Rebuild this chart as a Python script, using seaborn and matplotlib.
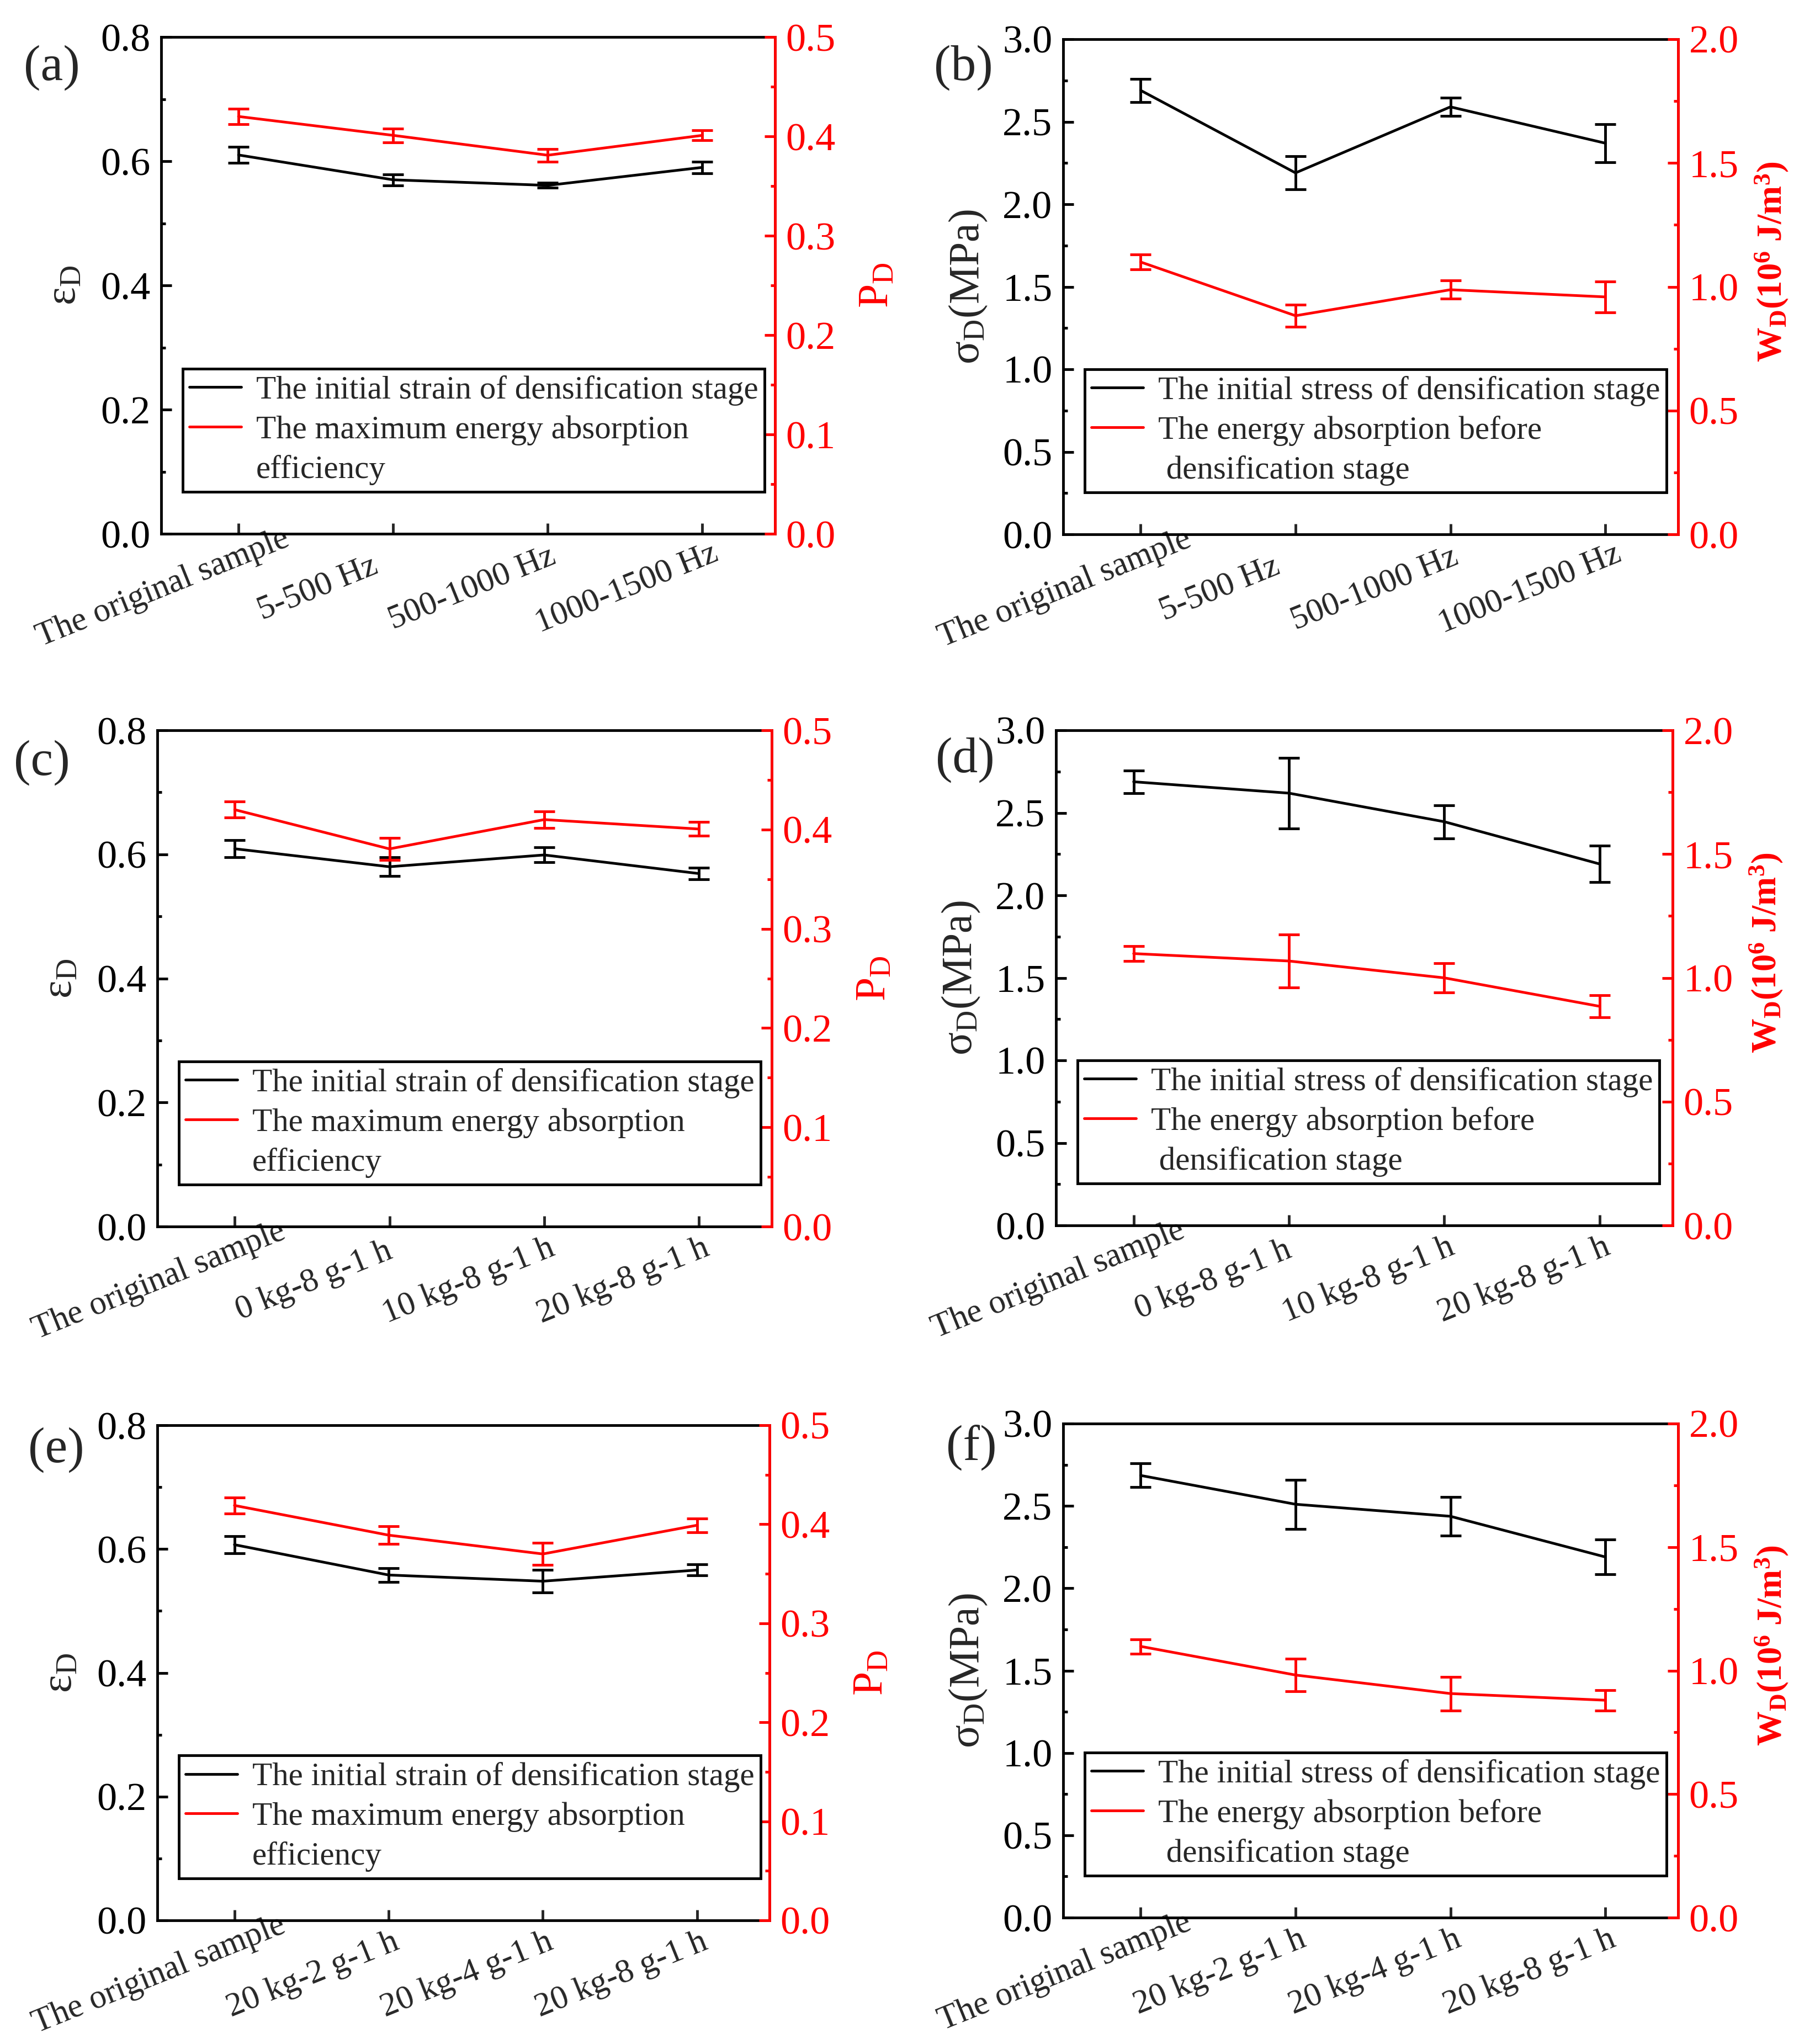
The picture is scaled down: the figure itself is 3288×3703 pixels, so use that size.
import numpy as np
import matplotlib
matplotlib.use('Agg')
import matplotlib.pyplot as plt
from matplotlib.ticker import MultipleLocator, FormatStrFormatter
from matplotlib.transforms import ScaledTranslation
from matplotlib.lines import Line2D
import seaborn as sns

# x categories for each row
cats_freq = ['The original sample', '5-500 Hz', '500-1000 Hz', '1000-1500 Hz']
cats_load = ['The original sample', '0 kg-8 g-1 h', '10 kg-8 g-1 h', '20 kg-8 g-1 h']
cats_accel = ['The original sample', '20 kg-2 g-1 h', '20 kg-4 g-1 h', '20 kg-8 g-1 h']

# (a) strain / efficiency, frequency
eps_a = [0.610, 0.570, 0.561, 0.590]
eps_a_err = [0.013, 0.009, 0.004, 0.0095]
pd_a = [0.420, 0.401, 0.381, 0.401]
pd_a_err = [0.008, 0.007, 0.0065, 0.005]
# (b) stress / energy, frequency
sig_b = [2.69, 2.19, 2.59, 2.37]
sig_b_err = [0.07, 0.10, 0.055, 0.115]
wd_b = [1.10, 0.883, 0.988, 0.959]
wd_b_err = [0.03, 0.044, 0.037, 0.062]
# (c) strain / efficiency, load
eps_c = [0.609, 0.580, 0.599, 0.569]
eps_c_err = [0.014, 0.015, 0.012, 0.009]
pd_c = [0.420, 0.3805, 0.410, 0.4005]
pd_c_err = [0.008, 0.011, 0.0085, 0.007]
# (d) stress / energy, load
sig_d = [2.688, 2.619, 2.446, 2.19]
sig_d_err = [0.069, 0.214, 0.10, 0.11]
wd_d = [1.098, 1.068, 1.00, 0.885]
wd_d_err = [0.03, 0.107, 0.059, 0.044]
# (e) strain / efficiency, acceleration
eps_e = [0.607, 0.558, 0.548, 0.566]
eps_e_err = [0.014, 0.011, 0.018, 0.009]
pd_e = [0.419, 0.389, 0.370, 0.399]
pd_e_err = [0.008, 0.009, 0.011, 0.007]
# (f) stress / energy, acceleration
sig_f = [2.685, 2.51, 2.437, 2.19]
sig_f_err = [0.072, 0.149, 0.118, 0.105]
wd_f = [1.098, 0.982, 0.907, 0.88]
wd_f_err = [0.029, 0.065, 0.068, 0.041]

# legend lines (third line is the wrapped rest of the red entry)
strain_labels = ['The initial strain of densification stage',
                 'The maximum energy absorption', 'efficiency']
stress_labels = ['The initial stress of densification stage',
                 'The energy absorption before', ' densification stage']

sns.set_style('ticks')
plt.rcParams['font.family'] = ['Liberation Serif', 'DejaVu Serif']
plt.rcParams['mathtext.fontset'] = 'custom'
plt.rcParams['mathtext.rm'] = 'Liberation Serif'
plt.rcParams['mathtext.it'] = 'Liberation Serif:italic'
plt.rcParams['mathtext.bf'] = 'Liberation Serif:bold'

RED = '#ff0000'
LW = 3.5
TICK_FS = 52
XT_FS = 44
LAB_FS = 56
LEG_FS = 42.5


def style_axis(ax, side, color):
    ax.tick_params(axis='y', which='both', direction='in', width=LW, colors=color,
                   labelsize=TICK_FS, pad=14,
                   left=(side == 'left'), right=(side == 'right'),
                   labelleft=(side == 'left'), labelright=(side == 'right'))
    ax.tick_params(axis='y', which='major', length=14)
    ax.tick_params(axis='y', which='minor', length=6)


def draw_panel(fig, rect, tag, tag_xy, cats, ly, lerr, ry, rerr, kind):
    ax = fig.add_axes(rect)
    ax2 = ax.twinx()
    x = np.arange(len(cats))

    sns.lineplot(x=x, y=ly, ax=ax, color='black', lw=LW)
    h1 = ax.lines[0]
    ax.errorbar(x, ly, yerr=lerr, fmt='none', ecolor='black', elinewidth=LW,
                capsize=14, capthick=LW)
    sns.lineplot(x=x, y=ry, ax=ax2, color=RED, lw=LW)
    h2 = ax2.lines[0]
    ax2.errorbar(x, ry, yerr=rerr, fmt='none', ecolor=RED, elinewidth=LW,
                 capsize=14, capthick=LW)

    ax.set_xlim(-0.5, 3.47)
    if kind == 'strain':
        ax.set_ylim(0, 0.8)
        ax.yaxis.set_major_locator(MultipleLocator(0.2))
        ax.yaxis.set_minor_locator(MultipleLocator(0.1))
        ax2.set_ylim(0, 0.5)
        ax2.yaxis.set_major_locator(MultipleLocator(0.1))
        ax2.yaxis.set_minor_locator(MultipleLocator(0.05))
        ax.set_ylabel('ε$_{\\mathrm{D}}$', fontsize=LAB_FS)
        ax2.set_ylabel('P$_{\\mathrm{D}}$', fontsize=LAB_FS, color=RED)
        labels = strain_labels
        ax.yaxis.set_label_coords(-0.125, 0.5)
        ax2.yaxis.set_label_coords(1.135, 0.5)
    else:
        ax.set_ylim(0, 3.0)
        ax.yaxis.set_major_locator(MultipleLocator(0.5))
        ax.yaxis.set_minor_locator(MultipleLocator(0.25))
        ax2.set_ylim(0, 2.0)
        ax2.yaxis.set_major_locator(MultipleLocator(0.5))
        ax2.yaxis.set_minor_locator(MultipleLocator(0.25))
        ax.set_ylabel('σ$_{\\mathrm{D}}$(MPa)', fontsize=LAB_FS)
        ax2.set_ylabel('W$_{\\mathbf{D}}$(10$^{\\mathbf{6}}$ J/m$^{\\mathbf{3}}$)',
                       fontsize=45, color=RED, fontweight='bold')
        labels = stress_labels
        ax.yaxis.set_label_coords(-0.12, 0.5)
        ax2.yaxis.set_label_coords(1.122, 0.55)

    ax.yaxis.set_major_formatter(FormatStrFormatter('%.1f'))
    ax2.yaxis.set_major_formatter(FormatStrFormatter('%.1f'))

    ax.set_xticks(x)
    # rotated labels are centred down-left of their tick, as in the original
    ax.set_xticklabels(cats, rotation=22, ha='center', va='center',
                       rotation_mode='default', fontsize=XT_FS)
    ax.tick_params(axis='x', which='both', direction='in', length=14, width=LW,
                   pad=0, top=False, bottom=True)
    for lbl in ax.get_xticklabels():
        lbl.set_transform(lbl.get_transform() +
                          ScaledTranslation(-1.37, -0.99, fig.dpi_scale_trans))
    ax.set_xlabel('')
    style_axis(ax, 'left', 'black')
    style_axis(ax2, 'right', RED)

    for s in ['left', 'top', 'bottom', 'right']:
        ax.spines[s].set_visible(True)
        ax.spines[s].set_linewidth(LW)
        ax.spines[s].set_color('black')
        ax2.spines[s].set_linewidth(LW)
    for s in ['left', 'top', 'bottom']:
        ax2.spines[s].set_visible(False)
    ax2.spines['right'].set_visible(True)
    ax2.spines['right'].set_color(RED)

    blank = Line2D([], [], color='none')
    leg = ax2.legend([h1, h2, blank], labels, loc='lower left',
                     bbox_to_anchor=(0.035, 0.085), fontsize=LEG_FS,
                     frameon=True, fancybox=False, framealpha=1,
                     edgecolor='black', handlelength=1.6, handletextpad=0.45,
                     labelspacing=0.29, borderpad=0.2, borderaxespad=0)
    leg.get_frame().set_linewidth(LW)

    fig.text(tag_xy[0], tag_xy[1], tag, fontsize=66, ha='center', va='center')
    return ax, ax2


W, H = 3288, 3703
fig = plt.figure(figsize=(W / 100, H / 100), dpi=100)


def rect(l, r, t, b):
    return [l / W, 1 - b / H, (r - l) / W, (b - t) / H]


draw_panel(fig, rect(292, 1404, 67, 967), '(a)', (94 / W, 1 - 123 / H),
           cats_freq, eps_a, eps_a_err, pd_a, pd_a_err, 'strain')
draw_panel(fig, rect(1926, 3040, 71, 968), '(b)', (1745 / W, 1 - 123 / H),
           cats_freq, sig_b, sig_b_err, wd_b, wd_b_err, 'stress')
draw_panel(fig, rect(285, 1398, 1323, 2222), '(c)', (76 / W, 1 - 1382 / H),
           cats_load, eps_c, eps_c_err, pd_c, pd_c_err, 'strain')
draw_panel(fig, rect(1913, 3030, 1323, 2220), '(d)', (1748 / W, 1 - 1377 / H),
           cats_load, sig_d, sig_d_err, wd_d, wd_d_err, 'stress')
draw_panel(fig, rect(285, 1394, 2582, 3479), '(e)', (102 / W, 1 - 2627 / H),
           cats_accel, eps_e, eps_e_err, pd_e, pd_e_err, 'strain')
draw_panel(fig, rect(1926, 3040, 2579, 3474), '(f)', (1760 / W, 1 - 2622 / H),
           cats_accel, sig_f, sig_f_err, wd_f, wd_f_err, 'stress')

fig.savefig('out.png', dpi=100, facecolor='white')
